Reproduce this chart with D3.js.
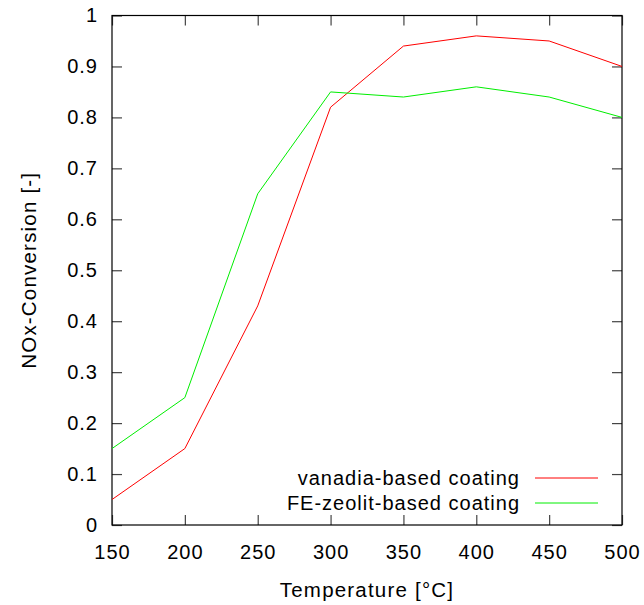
<!DOCTYPE html>
<html>
<head>
<meta charset="utf-8">
<script src="https://cdn.jsdelivr.net/npm/d3@7"></script>
<style>
  html, body { margin: 0; padding: 0; background: #fff; }
  svg { display: block; font-family: "Liberation Sans", Arial, sans-serif; }
  .tick text { font-size: 20px; letter-spacing: 1px; fill: #000; }
  .label { font-size: 20.5px; letter-spacing: 1.2px; fill: #000; }
</style>
</head>
<body>
<div id="chart"></div>
<script>
const temperatures = [150, 200, 250, 300, 350, 400, 450, 500];
const vanadia = [0.05, 0.15, 0.43, 0.82, 0.94, 0.96, 0.95, 0.90];
const feZeolit = [0.15, 0.25, 0.65, 0.85, 0.84, 0.86, 0.84, 0.80];
const seriesNames = ["vanadia-based coating", "FE-zeolit-based coating"];
const seriesColors = ["#ff0000", "#00ee00"];
const xTicks = [150, 200, 250, 300, 350, 400, 450, 500];
const yTicks = [0, 0.1, 0.2, 0.3, 0.4, 0.5, 0.6, 0.7, 0.8, 0.9, 1];

const width = 644, height = 605;
const margin = { top: 15.5, right: 22, bottom: 80, left: 112 };

const svg = d3.select("#chart").append("svg")
  .attr("width", width)
  .attr("height", height);

const x = d3.scaleLinear().domain([150, 500]).range([margin.left, width - margin.right]);
const y = d3.scaleLinear().domain([0, 1]).range([height - margin.bottom, margin.top]);

const tickLen = 10;

// inward ticks on all four sides
svg.append("g")
  .attr("transform", `translate(0,${y(0)})`)
  .call(d3.axisBottom(x).tickValues(xTicks).tickSize(-tickLen).tickPadding(20).tickFormat(d3.format("d")))
  .call(g => g.select(".domain").remove());
svg.append("g")
  .attr("transform", `translate(0,${y(1)})`)
  .call(d3.axisTop(x).tickValues(xTicks).tickSize(-tickLen).tickFormat(""))
  .call(g => g.select(".domain").remove());
svg.append("g")
  .attr("transform", `translate(${x(150)},0)`)
  .call(d3.axisLeft(y).tickValues(yTicks).tickSize(-tickLen).tickPadding(14).tickFormat(d => d3.format("")(+d.toFixed(1))))
  .call(g => g.select(".domain").remove());
svg.append("g")
  .attr("transform", `translate(${x(500)},0)`)
  .call(d3.axisRight(y).tickValues(yTicks).tickSize(-tickLen).tickFormat(""))
  .call(g => g.select(".domain").remove());

svg.selectAll(".tick line").attr("stroke", "#444").attr("stroke-width", 1.2);

// frame
svg.append("rect")
  .attr("x", x(150)).attr("y", y(1))
  .attr("width", x(500) - x(150)).attr("height", y(0) - y(1))
  .attr("fill", "none").attr("stroke", "#000").attr("stroke-width", 1.2);

const line = d3.line()
  .x((d, i) => x(temperatures[i]))
  .y(d => y(d));

svg.selectAll(".series")
  .data([vanadia, feZeolit])
  .join("path")
  .attr("class", "series")
  .attr("fill", "none")
  .attr("stroke", (d, i) => seriesColors[i])
  .attr("stroke-width", 1)
  .attr("d", line);

// legend
const legend = svg.append("g");
seriesNames.forEach((name, i) => {
  const ly = 478 + i * 25;
  legend.append("text")
    .attr("class", "label")
    .attr("x", 520).attr("y", ly)
    .attr("dy", "0.35em")
    .attr("text-anchor", "end")
    .style("letter-spacing", "1px")
    .style("font-size", "20px")
    .text(name);
  legend.append("line")
    .attr("x1", 535).attr("x2", 598)
    .attr("y1", ly).attr("y2", ly)
    .attr("stroke", seriesColors[i]).attr("stroke-width", 1);
});

// axis titles
svg.append("text")
  .attr("class", "label")
  .attr("x", (x(150) + x(500)) / 2)
  .attr("y", 596.5)
  .attr("text-anchor", "middle")
  .text("Temperature [°C]");
svg.append("text")
  .attr("class", "label")
  .attr("transform", `translate(36,${(y(0) + y(1)) / 2}) rotate(-90)`)
  .attr("text-anchor", "middle")
  .text("NOx-Conversion [-]");
</script>
</body>
</html>
